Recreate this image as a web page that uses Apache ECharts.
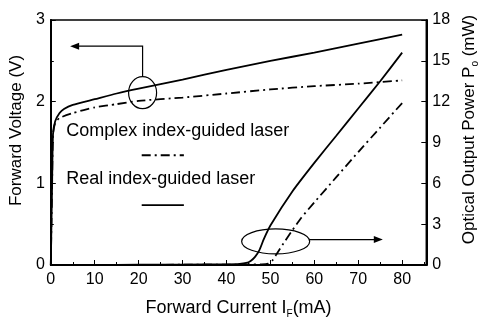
<!DOCTYPE html>
<html>
<head>
<meta charset="utf-8">
<script src="https://cdn.jsdelivr.net/npm/echarts@6/dist/echarts.min.js"></script>
<style>
html,body{margin:0;padding:0;background:#fff;}
#chart{width:488px;height:324px;}
</style>
</head>
<body>
<div id="chart"></div>
<script>
// ---- data ----
const xTicks = [0, 10, 20, 30, 40, 50, 60, 70, 80];
const leftTicks = [0, 1, 2, 3];
const rightTicks = [0, 3, 6, 9, 12, 15, 18];

// Forward voltage (V) vs current (mA)
const realVoltI = [0, 0.3, 0.5, 1, 2, 3, 5, 10, 15, 20, 30, 40, 50, 60, 70, 80];
const realVolt  = [0, 1.0, 1.6, 1.76, 1.86, 1.91, 1.96, 2.03, 2.10, 2.16, 2.27, 2.39, 2.50, 2.60, 2.71, 2.82];
const cplxVoltI = [0, 0.3, 0.5, 1, 2, 5, 10, 15, 20, 30, 40, 50, 60, 70, 80];
const cplxVolt  = [0, 1.0, 1.6, 1.74, 1.80, 1.86, 1.93, 1.97, 2.01, 2.05, 2.10, 2.15, 2.19, 2.22, 2.26];

// Optical output power (mW) vs current (mA)
const realPowI = [0, 10, 20, 30, 40, 43, 44.5, 45.5, 46.5, 47.5, 48.5, 50, 55, 60, 65, 70, 75, 80];
const realPow  = [0, 0, 0.02, 0.03, 0.05, 0.08, 0.15, 0.3, 0.6, 1.1, 1.9, 2.9, 5.4, 7.5, 9.5, 11.5, 13.5, 15.6];
const cplxPowI = [0, 10, 20, 30, 40, 48, 49.5, 50.5, 51.5, 53, 55, 57, 60, 65, 70, 75, 80];
const cplxPow  = [0, 0, 0.01, 0.02, 0.03, 0.05, 0.1, 0.35, 0.85, 1.6, 2.55, 3.45, 4.6, 6.45, 8.3, 10.1, 11.9];

const legendLabels = ['Complex index-guided laser', 'Real index-guided laser'];

// ---- helpers ----
const zip = (xs, ys) => xs.map((x, i) => [x, ys[i]]);
const FONT = 'Liberation Sans, Arial, Helvetica, sans-serif';
const DASHDOT = [9, 4, 2, 4];

const chart = echarts.init(document.getElementById('chart'), null, {renderer: 'canvas', width: 488, height: 324});

const axisCommon = {
  axisLine: {show: true, onZero: false, lineStyle: {color: '#000', width: 2}},
  axisTick: {show: true, inside: true, length: 5, lineStyle: {color: '#000', width: 1}},
  minorTick: {show: true, splitNumber: 2, length: 3, lineStyle: {color: '#000', width: 1}},
  splitLine: {show: false},
  minorSplitLine: {show: false}
};

const option = {
  animation: false,
  backgroundColor: '#fff',
  textStyle: {fontFamily: FONT, color: '#000'},
  grid: {left: 48, right: 51, top: 20, bottom: 54, show: true, borderColor: '#000', borderWidth: 1.5, backgroundColor: 'transparent'},
  xAxis: Object.assign({}, axisCommon, {
    type: 'value', min: xTicks[0], max: 85.5, interval: 10,
    axisLabel: {color: '#000', fontSize: 16, fontFamily: FONT, margin: 7, showMaxLabel: false,
      formatter: v => xTicks.indexOf(v) >= 0 ? String(v) : ''},
    name: '{t|Forward Current I}{s|F}{t|(mA)}',
    nameLocation: 'middle', nameGap: 32,
    nameTextStyle: {rich: {
      t: {fontSize: 18, fontFamily: FONT, color: '#000', lineHeight: 22},
      s: {fontSize: 10, fontFamily: FONT, color: '#000', lineHeight: 12, verticalAlign: 'bottom'}
    }}
  }),
  yAxis: [
    Object.assign({}, axisCommon, {
      type: 'value', position: 'left', min: leftTicks[0], max: leftTicks[leftTicks.length - 1], interval: 1,
      axisLabel: {color: '#000', fontSize: 16, fontFamily: FONT, margin: 6},
      name: 'Forward Voltage (V)', nameLocation: 'middle', nameGap: 22,
      nameTextStyle: {fontSize: 17, fontFamily: FONT, color: '#000', padding: [0, 0, 0, 24]}
    }),
    Object.assign({}, axisCommon, {
      type: 'value', position: 'right', min: rightTicks[0], max: rightTicks[rightTicks.length - 1], interval: 3,
      minorTick: {show: false},
      axisLabel: {color: '#000', fontSize: 16, fontFamily: FONT, margin: 6},
      name: '{t|Optical Output Power P}{s|o}{t| (mW)}', nameLocation: 'middle', nameGap: 30,
      nameTextStyle: {padding: [0, 0, 0, 26], rich: {
        t: {fontSize: 17, fontFamily: FONT, color: '#000', lineHeight: 21},
        s: {fontSize: 10, fontFamily: FONT, color: '#000', lineHeight: 12, verticalAlign: 'bottom'}
      }}
    })
  ],
  series: [
    {name: 'realV', type: 'line', xAxisIndex: 0, yAxisIndex: 0, data: zip(realVoltI, realVolt), showSymbol: false, smooth: 0.2,
      lineStyle: {color: '#000', width: 1.8, type: 'solid'}},
    {name: 'cplxV', type: 'line', xAxisIndex: 0, yAxisIndex: 0, data: zip(cplxVoltI, cplxVolt), showSymbol: false, smooth: 0.2,
      lineStyle: {color: '#000', width: 1.8, type: DASHDOT}},
    {name: 'realP', type: 'line', xAxisIndex: 0, yAxisIndex: 1, data: zip(realPowI, realPow), showSymbol: false, smooth: 0.2,
      lineStyle: {color: '#000', width: 1.8, type: 'solid'}},
    {name: 'cplxP', type: 'line', xAxisIndex: 0, yAxisIndex: 1, data: zip(cplxPowI, cplxPow), showSymbol: false, smooth: 0.2,
      lineStyle: {color: '#000', width: 1.8, type: DASHDOT}}
  ]
};
chart.setOption(option);

// ---- annotations, anchored in data coordinates ----
const px = x => chart.convertToPixel({xAxisIndex: 0}, x);
const pyV = v => chart.convertToPixel({yAxisIndex: 0}, v);
const pyP = p => chart.convertToPixel({yAxisIndex: 1}, p);

// voltage loop: centre (mA, V), arrow corner V, arrow tip mA
const vLoop = {x: 20.9, y: 2.11, arrowV: 2.68, tipX: 4.4};
// power loop: centre (mA, mW), arrow level mW, arrow tip mA
const pLoop = {x: 51.2, y: 1.73, arrowP: 1.87, tipX: 75.6};
// legend anchors (mA, V)
const legendPos = {textX: 3.5, complexV: 1.64, realV: 1.056, lineX0: 20.7, lineX1: 30.3, complexLineV: 1.344, realLineV: 0.732};

const g = [];
const stroke = {stroke: '#000', lineWidth: 1.2, fill: null};

// upper loop
{
  const cx = px(vLoop.x), cy = pyV(vLoop.y), rx = 14, ry = 16;
  g.push({type: 'ellipse', shape: {cx, cy, rx, ry}, style: stroke, z: 100});
  const ay = pyV(vLoop.arrowV), tx = px(vLoop.tipX);
  g.push({type: 'polyline', shape: {points: [[cx, cy - ry], [cx, ay], [tx + 6, ay]]}, style: stroke, z: 100});
  g.push({type: 'polygon', shape: {points: [[tx, ay], [tx + 9, ay - 3.5], [tx + 9, ay + 3.5]]}, style: {fill: '#000'}, z: 100});
}
// lower loop
{
  const cx = px(pLoop.x), cy = pyP(pLoop.y), rx = 34, ry = 12.5;
  g.push({type: 'ellipse', shape: {cx, cy, rx, ry}, style: stroke, z: 100});
  const ay = pyP(pLoop.arrowP), tx = px(pLoop.tipX);
  g.push({type: 'line', shape: {x1: cx + rx - 0.5, y1: ay, x2: tx - 6, y2: ay}, style: stroke, z: 100});
  g.push({type: 'polygon', shape: {points: [[tx, ay], [tx - 9, ay - 3.5], [tx - 9, ay + 3.5]]}, style: {fill: '#000'}, z: 100});
}
// legend texts and samples
g.push({type: 'text', x: px(legendPos.textX), y: pyV(legendPos.complexV), z: 100,
  style: {text: legendLabels[0], font: '18px ' + FONT, fill: '#000', textVerticalAlign: 'middle', verticalAlign: 'middle'}});
g.push({type: 'text', x: px(legendPos.textX), y: pyV(legendPos.realV), z: 100,
  style: {text: legendLabels[1], font: '18px ' + FONT, fill: '#000', textVerticalAlign: 'middle', verticalAlign: 'middle'}});
g.push({type: 'line', shape: {x1: px(legendPos.lineX0), y1: pyV(legendPos.complexLineV), x2: px(legendPos.lineX1), y2: pyV(legendPos.complexLineV)},
  style: {stroke: '#000', lineWidth: 1.8, lineDash: DASHDOT}, z: 100});
g.push({type: 'line', shape: {x1: px(legendPos.lineX0), y1: pyV(legendPos.realLineV), x2: px(legendPos.lineX1), y2: pyV(legendPos.realLineV)},
  style: {stroke: '#000', lineWidth: 1.8}, z: 100});

chart.setOption({graphic: {elements: g}});
</script>
</body>
</html>
